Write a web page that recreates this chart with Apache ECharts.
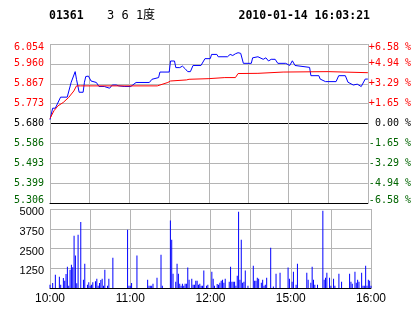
<!DOCTYPE html>
<html><head><meta charset="utf-8">
<script src="https://cdn.jsdelivr.net/npm/echarts@6/dist/echarts.min.js"></script>
<style>html,body{margin:0;padding:0;background:#fff}#c{width:414px;height:314px}</style>
</head><body><div id="c"></div>
<script>
// ---- data ----
const priceTimes = ['10:00','10:02','10:04','10:08','10:13','10:16','10:19','10:20','10:22','10:25',
  '10:26','10:27','10:29','10:31','10:35','10:37','10:41','10:42','10:45','10:47',
  '10:50','10:52','10:56','11:01','11:05','11:15','11:17','11:22','11:23','11:30',
  '11:31','11:34','11:35','11:38','11:40','11:42','11:44','11:46','11:48','11:54',
  '11:57','12:01','12:02','12:06','12:07','12:14','12:16','12:18','12:20','12:22',
  '12:24','12:26','14:32','14:33','14:37','14:41','14:43','14:45','14:47','14:50',
  '14:52','14:58','15:01','15:03','15:05','15:06','15:16','15:17','15:23','15:24',
  '15:28','15:36','15:38','15:43','15:45','15:49','15:52','15:55','15:58','16:00'];
const priceValues = [5.698,5.752,5.752,5.804,5.804,5.874,5.924,5.888,5.827,5.827,
  5.874,5.901,5.903,5.880,5.873,5.854,5.854,5.846,5.846,5.861,
  5.861,5.857,5.854,5.854,5.873,5.873,5.888,5.896,5.922,5.922,
  5.974,5.974,5.943,5.943,5.950,5.938,5.924,5.924,5.953,5.953,
  5.985,5.985,6.005,6.005,5.994,5.994,6.005,6.000,6.008,6.013,
  6.010,5.963,5.963,5.989,5.994,5.982,5.989,5.974,5.982,5.982,
  5.963,5.963,5.953,5.975,5.953,5.944,5.944,5.905,5.905,5.889,
  5.877,5.877,5.905,5.905,5.874,5.861,5.865,5.854,5.889,5.889];
const avgTimes = ['10:00','10:03','10:06','10:10','10:14','10:18','10:20','10:21','10:23','11:21',
  '11:29','11:31','11:43','11:45','12:00','12:12','12:20','12:22','14:37','14:56',
  '15:30','15:31','16:00'];
const avgValues = [5.704,5.740,5.763,5.779,5.802,5.833,5.857,5.866,5.857,5.857,
  5.873,5.880,5.885,5.888,5.891,5.896,5.896,5.915,5.916,5.922,
  5.924,5.919,5.919];
const volTimes = [
  '10:00','10:02','10:04','10:07','10:08','10:10','10:11','10:12','10:13','10:14',
  '10:15','10:16','10:17','10:18','10:19','10:20','10:21','10:23','10:25','10:26',
  '10:28','10:29','10:30','10:31','10:32','10:34','10:35','10:36','10:37','10:38',
  '10:39','10:40','10:41','10:43','10:44','10:47','10:58','10:59','11:00','11:01',
  '11:05','11:13','11:14','11:15','11:16','11:17','11:20','11:23','11:24','11:30',
  '11:31','11:32','11:34','11:35','11:36','11:37','11:38','11:39','11:40','11:41',
  '11:42','11:43','11:44','11:46','11:47','11:48','11:49','11:50','11:51','11:52',
  '11:53','11:54','11:55','11:57','11:58','12:01','12:02','12:03','12:05','12:06',
  '12:07','12:08','12:09','12:10','12:11','12:14','12:15','12:16','12:17','12:18',
  '12:19','12:20','12:21','12:22','12:23','12:24','12:25','12:26','12:28','14:32',
  '14:33','14:34','14:35','14:36','14:38','14:39','14:40','14:41','14:42','14:45',
  '14:47','14:49','14:52','14:58','14:59','15:01','15:02','15:04','15:05','15:12',
  '15:13','15:15','15:16','15:17','15:18','15:20','15:24','15:25','15:26','15:27',
  '15:29','15:30','15:32','15:33','15:36','15:38','15:44','15:45','15:46','15:48',
  '15:49','15:50','15:51','15:53','15:54','15:55','15:56','15:57','15:58','15:59',
  '16:00'];
const volValues = [
  210,320,840,710,200,630,460,890,1350,150,
  1160,1470,1310,3310,2050,300,3370,4180,530,1540,
  210,370,150,210,370,420,590,150,320,510,
  590,150,1160,150,590,1920,3690,150,150,320,
  2050,530,150,150,150,270,650,2100,150,4280,
  3060,900,400,1540,900,270,150,270,150,270,
  270,1290,530,590,200,200,460,460,200,270,
  150,150,1100,150,200,1030,590,150,250,200,
  330,460,530,330,590,400,1350,400,400,400,
  150,780,4830,530,3060,330,400,1100,150,1410,
  460,460,650,590,330,530,150,210,650,2550,
  100,900,970,1290,590,400,1030,210,1540,970,
  530,330,1350,530,210,210,4890,530,650,970,
  650,150,590,150,900,400,900,400,270,1030,
  330,530,400,970,150,150,1410,150,530,460,
  150];
const priceTickLabels = ['5.306','5.399','5.493','5.586','5.680','5.773','5.867','5.960','6.054'];
const pctTickLabels = ['-6.58 %','-4.94 %','-3.29 %','-1.65 %',' 0.00 %','+1.65 %','+3.29 %','+4.94 %','+6.58 %'];
const volTickLabels = ['', '1250', '2500', '3750', '5000'];
const timeTickLabels = ['10:00','','11:00','','12:00','','15:00','','16:00'];
const prevClose = 5.680, priceStep = 0.0935;
const headCode = '01361', headName = '3 6 1度', headTime = '2010-01-14 16:03:21';

// ---- helpers ----
function minuteIndex(t){
  const p = t.split(':').map(Number); const v = p[0]*60 + p[1];
  return v <= 750 ? v - 600 : v - 720;   // 10:00-12:30 then 14:30-16:00
}
function toLevel(p){ return (p - prevClose) / priceStep; }

const RED = '#ff0000', GREEN = '#006400', GRID = '#b4b4b4';
const monoFont = '"DejaVu Sans Mono", monospace';
const sansFont = '"Liberation Sans", Arial, sans-serif';

function labelRich(size){
  const base = {fontFamily: monoFont, fontSize: size};
  return {
    up: Object.assign({color: RED}, base),
    upTop: Object.assign({color: RED, padding: [6,0,0,0]}, base),
    zero: Object.assign({color: '#000'}, base),
    dn: Object.assign({color: GREEN}, base),
    dnBot: Object.assign({color: GREEN, padding: [0,0,6,0]}, base)
  };
}
function levelFormatter(labels){
  return function(v){
    const i = Math.round(v) + 4;
    const key = i === 8 ? 'upTop' : i > 4 ? 'up' : i === 4 ? 'zero' : i === 0 ? 'dnBot' : 'dn';
    return '{' + key + '|' + labels[i] + '}';
  };
}
const gridLine = {show: true, lineStyle: {color: GRID, width: 1, type: 'solid', opacity: 1}};

const chart = echarts.init(document.getElementById('c'), null, {renderer: 'canvas'});
chart.setOption({
  animation: false,
  backgroundColor: '#fff',
  graphic: [
    {type: 'text', x: 49, y: 16, style: {text: headCode, font: 'bold 11.5px ' + monoFont, fill: '#000', verticalAlign: 'middle'}},
    {type: 'text', x: 107, y: 16, style: {text: headName, font: '12px "DejaVu Sans Mono", "Noto Sans CJK SC"', fill: '#000', verticalAlign: 'middle'}},
    {type: 'text', x: 370, y: 16, style: {text: headTime, font: 'bold 11.5px ' + monoFont, fill: '#000', align: 'right', verticalAlign: 'middle'}}
  ],
  grid: [
    {left: 50, top: 44, width: 321, height: 159},
    {left: 50, top: 209, width: 321, height: 79}
  ],
  xAxis: [
    {type: 'value', gridIndex: 0, min: 0, max: 240, interval: 30,
     axisLine: {show: true, onZero: false, lineStyle: {color: '#000', width: 1}}, axisTick: {show: false}, axisLabel: {show: false},
     splitLine: gridLine},
    {type: 'value', gridIndex: 1, min: 0, max: 240, interval: 30,
     axisLine: {show: true, onZero: false, lineStyle: {color: '#000', width: 1}}, axisTick: {show: false},
     axisLabel: {show: true, margin: 5, showMinLabel: true, showMaxLabel: true,
       fontFamily: sansFont, fontSize: 12, color: '#000',
       formatter: v => timeTickLabels[Math.round(v / 30)] || ''},
     splitLine: gridLine}
  ],
  yAxis: [
    {type: 'value', gridIndex: 0, min: -4, max: 4, interval: 1,
     axisLine: {show: false}, axisTick: {show: false},
     axisLabel: {margin: 6, formatter: levelFormatter(priceTickLabels), rich: labelRich(10)},
     splitLine: {show: true, lineStyle: {width: 1, type: 'solid', color: ['#000', GRID, GRID, GRID, '#000', GRID, GRID, GRID, GRID]}}},
    {type: 'value', gridIndex: 0, position: 'right', min: -4, max: 4, interval: 1,
     axisLine: {show: false}, axisTick: {show: false},
     axisLabel: {margin: 1, formatter: levelFormatter(pctTickLabels), rich: labelRich(10)},
     splitLine: {show: false}},
    {type: 'value', gridIndex: 1, min: 0, max: 5000, interval: 1250,
     axisLine: {show: false}, axisTick: {show: false},
     axisLabel: {margin: 6, formatter: v => '{v|' + (volTickLabels[Math.round(v / 1250)] || '') + '}',
       rich: {v: {color: '#000', fontFamily: sansFont, fontSize: 11, padding: [6, 0, 0, 0]}}},
     splitLine: gridLine}
  ],
  series: [
    {type: 'line', xAxisIndex: 0, yAxisIndex: 0, symbol: 'none', silent: true,
     lineStyle: {color: '#0000ff', width: 1},
     data: priceTimes.map((t, i) => [minuteIndex(t), toLevel(priceValues[i])])},
    {type: 'line', xAxisIndex: 0, yAxisIndex: 0, symbol: 'none', silent: true,
     lineStyle: {color: '#ff0000', width: 1},
     data: avgTimes.map((t, i) => [minuteIndex(t), toLevel(avgValues[i])])},
    {type: 'bar', xAxisIndex: 1, yAxisIndex: 2, barWidth: 1, silent: true,
     itemStyle: {color: '#0000ff'},
     data: volTimes.map((t, i) => [minuteIndex(t), volValues[i]])}
  ]
});
</script></body></html>
